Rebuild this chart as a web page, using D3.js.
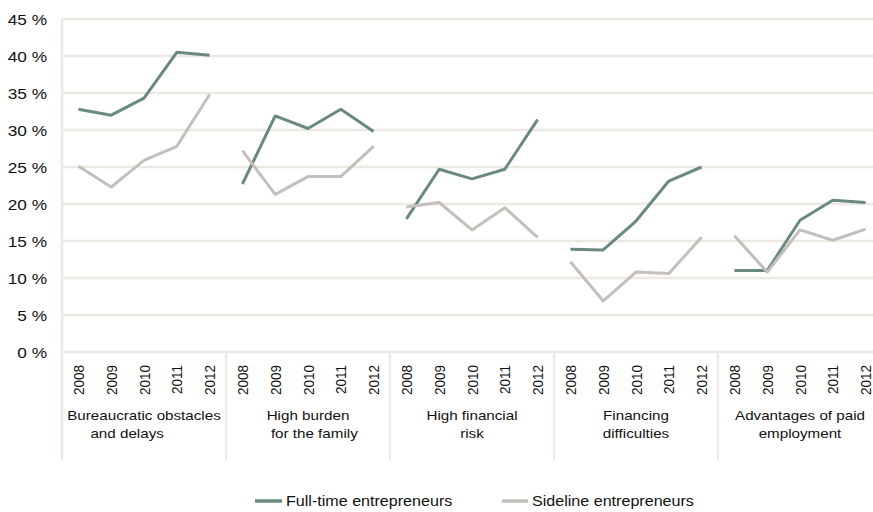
<!DOCTYPE html>
<html>
<head>
<meta charset="utf-8">
<script src="https://cdn.jsdelivr.net/npm/d3@7"></script>
<style>
  html, body { margin: 0; padding: 0; background: #ffffff; }
  svg { display: block; font-family: "Liberation Sans", Arial, sans-serif; }
</style>
</head>
<body>
<svg id="chart"></svg>
<script>
// Reasons given for not founding / giving up a business, by year
const categories = [
  ["Bureaucratic obstacles", "and delays\u00A0\u00A0\u00A0\u00A0\u00A0\u00A0\u00A0\u00A0"],
  ["High burden", "\u00A0\u00A0\u00A0for the family"],
  ["High financial", "risk"],
  ["Financing", "difficulties"],
  ["Advantages of paid", "employment"]
];
const years = ["2008", "2009", "2010", "2011", "2012"];

// Percent values per category, one row per category, one entry per year
const fullTime = [
  [32.8, 32.0, 34.3, 40.5, 40.1],
  [22.7, 31.9, 30.2, 32.8, 29.8],
  [18.0, 24.7, 23.4, 24.7, 31.4],
  [13.9, 13.8, 17.7, 23.1, 25.0],
  [11.0, 11.0, 17.8, 20.5, 20.2]
];
const sideline = [
  [25.1, 22.3, 25.9, 27.8, 34.8],
  [27.2, 21.3, 23.7, 23.7, 27.8],
  [19.6, 20.2, 16.5, 19.5, 15.5],
  [12.2, 6.9, 10.8, 10.6, 15.5],
  [15.7, 10.8, 16.5, 15.1, 16.6]
];
const yTicks = [0, 5, 10, 15, 20, 25, 30, 35, 40, 45];
const seriesNames = ["Full-time entrepreneurs", "Sideline entrepreneurs"];

// Drawing space is slightly narrower than the page and stretched to fit it
const SX = 1.15;
const W = 873 / SX, H = 512;
const colors = { full: "#6a8a80", side: "#c3bfbb", grid: "#eee8e3", text: "#111111" };

const svg = d3.select("#chart")
  .attr("width", 873).attr("height", 512)
  .attr("viewBox", `0 0 ${W} ${H}`)
  .attr("preserveAspectRatio", "none");

const plotLeft = 62 / SX, plotRight = 882 / SX;
const plotTop = 19, plotBottom = 352, axisBottom = 460;

const y = d3.scaleLinear().domain([0, 45]).range([plotBottom, plotTop]);
const groupIdx = d3.range(categories.length);
const xGroup = d3.scaleBand().domain(groupIdx).range([plotLeft, plotRight]).padding(0);
const xYear = d3.scaleBand().domain(years).range([0, xGroup.bandwidth()]).padding(0);
const px = (g, yr) => xGroup(g) + xYear(yr) + xYear.bandwidth() / 2;

// y tick labels
const yAxis = d3.axisLeft(y).tickValues(yTicks).tickSize(0).tickFormat(d => d + " %");
const yAxisG = svg.append("g").attr("transform", `translate(${plotLeft},0)`).call(yAxis);
yAxisG.select(".domain").remove();
yAxisG.selectAll(".tick line").remove();
yAxisG.selectAll(".tick text")
  .attr("x", -(plotLeft - 47 / SX))
  .attr("dy", "0.36em")
  .attr("fill", colors.text)
  .style("font-size", "15px")
  .style("font-family", "'Liberation Sans', Arial, sans-serif");

// horizontal gridlines
svg.append("g").selectAll("line").data(yTicks).join("line")
  .attr("x1", plotLeft).attr("x2", W + 20)
  .attr("y1", d => y(d)).attr("y2", d => y(d))
  .attr("stroke", colors.grid).attr("stroke-width", 2.5)
  .attr("vector-effect", "non-scaling-stroke");

// left axis line and group separators
svg.append("line")
  .attr("x1", plotLeft).attr("x2", plotLeft)
  .attr("y1", plotTop).attr("y2", axisBottom)
  .attr("stroke", colors.grid).attr("stroke-width", 2.5)
  .attr("vector-effect", "non-scaling-stroke");
svg.append("g").selectAll("line").data(groupIdx.slice(1)).join("line")
  .attr("x1", d => xGroup(d)).attr("x2", d => xGroup(d))
  .attr("y1", plotBottom).attr("y2", axisBottom)
  .attr("stroke", colors.grid).attr("stroke-width", 2)
  .attr("vector-effect", "non-scaling-stroke");

// year labels (rotated)
const yearG = svg.append("g");
groupIdx.forEach(g => {
  yearG.selectAll(null).data(years).join("text")
    .attr("transform", d => `translate(${px(g, d)},365) rotate(-90)`)
    .attr("text-anchor", "end")
    .attr("dy", "0.36em")
    .attr("fill", colors.text)
    .style("font-size", "13.5px")
    .text(d => d);
});

// category labels
const catText = svg.append("g").selectAll("text").data(groupIdx).join("text")
  .attr("text-anchor", "middle")
  .attr("fill", colors.text)
  .style("font-size", "13.2px");
catText.selectAll("tspan").data(g => categories[g].map(t => ({ g, t }))).join("tspan")
  .attr("x", d => xGroup(d.g) + xGroup.bandwidth() / 2)
  .attr("y", (d, i) => 420 + i * 18)
  .text(d => d.t);

// series lines
const line = d3.line()
  .x(d => px(d.g, d.year))
  .y(d => y(d.v));
const toPts = (row, g) => row.map((v, i) => ({ g, year: years[i], v }));

const series = [
  { data: fullTime, color: colors.full },
  { data: sideline, color: colors.side }
];
series.forEach(s => {
  svg.append("g").selectAll("path").data(s.data.map(toPts)).join("path")
    .attr("d", line)
    .attr("fill", "none")
    .attr("stroke", s.color)
    .attr("stroke-width", 3)
    .attr("stroke-linejoin", "round")
    .attr("vector-effect", "non-scaling-stroke");
});

// legend
const legendY = 501;
const legendItems = [
  { name: seriesNames[0], color: colors.full, x0: 255, x1: 282, tx: 286 },
  { name: seriesNames[1], color: colors.side, x0: 502, x1: 528, tx: 532 }
];
const lg = svg.append("g").selectAll("g").data(legendItems).join("g");
lg.append("line")
  .attr("x1", d => d.x0 / SX).attr("x2", d => d.x1 / SX)
  .attr("y1", legendY).attr("y2", legendY)
  .attr("stroke", d => d.color).attr("stroke-width", 3.5)
  .attr("vector-effect", "non-scaling-stroke");
lg.append("text")
  .attr("x", d => d.tx / SX).attr("y", legendY)
  .attr("dy", "0.36em")
  .attr("fill", colors.text)
  .style("font-size", "14px")
  .text(d => d.name);
</script>
</body>
</html>
